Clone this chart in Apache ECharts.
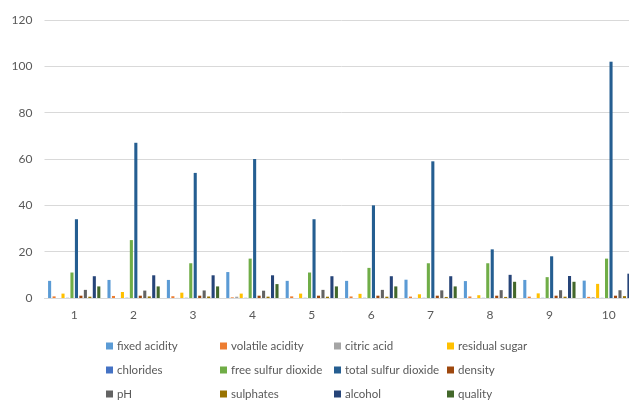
<!DOCTYPE html>
<html>
<head>
<meta charset="utf-8">
<script src="https://cdn.jsdelivr.net/npm/echarts@6/dist/echarts.min.js"></script>
<style>
  html, body { margin: 0; padding: 0; background: #fff; overflow: hidden; }
  #chart { width: 645px; height: 402px; }
</style>
</head>
<body>
<div id="chart"></div>
<script>
// Wine samples 1-10, one bar per measured property
const categories = ['1', '2', '3', '4', '5', '6', '7', '8', '9', '10'];

const fixedAcidity       = [7.4, 7.8, 7.8, 11.2, 7.4, 7.4, 7.9, 7.3, 7.8, 7.5];
const volatileAcidity    = [0.70, 0.88, 0.76, 0.28, 0.70, 0.66, 0.60, 0.65, 0.58, 0.50];
const citricAcid         = [0.00, 0.00, 0.04, 0.56, 0.00, 0.00, 0.06, 0.00, 0.02, 0.36];
const residualSugar      = [1.9, 2.6, 2.3, 1.9, 1.9, 1.8, 1.6, 1.2, 2.0, 6.1];
const chlorides          = [0.076, 0.098, 0.092, 0.075, 0.076, 0.075, 0.069, 0.065, 0.073, 0.071];
const freeSulfurDioxide  = [11, 25, 15, 17, 11, 13, 15, 15, 9, 17];
const totalSulfurDioxide = [34, 67, 54, 60, 34, 40, 59, 21, 18, 102];
const density            = [0.9978, 0.9968, 0.997, 0.998, 0.9978, 0.9978, 0.9964, 0.9946, 0.9968, 0.9978];
const pH                 = [3.51, 3.2, 3.26, 3.16, 3.51, 3.51, 3.3, 3.39, 3.36, 3.35];
const sulphates          = [0.56, 0.68, 0.65, 0.58, 0.56, 0.56, 0.46, 0.47, 0.57, 0.8];
const alcohol            = [9.4, 9.8, 9.8, 9.8, 9.4, 9.4, 9.4, 10, 9.5, 10.5];
const quality            = [5, 5, 5, 6, 5, 5, 5, 7, 7, 5];

const seriesNames = ['fixed acidity', 'volatile acidity', 'citric acid', 'residual sugar',
  'chlorides', 'free sulfur dioxide', 'total sulfur dioxide', 'density',
  'pH', 'sulphates', 'alcohol', 'quality'];
const seriesValues = [fixedAcidity, volatileAcidity, citricAcid, residualSugar,
  chlorides, freeSulfurDioxide, totalSulfurDioxide, density,
  pH, sulphates, alcohol, quality];
const palette = ['#5B9BD5', '#ED7D31', '#A5A5A5', '#FFC000', '#4472C4', '#70AD47',
  '#255E91', '#9E480E', '#636363', '#997300', '#264478', '#43682B'];

const yTicks = { min: 0, max: 120, interval: 20 };

const font = 'Lato, "Liberation Sans", sans-serif';
const textColor = '#595959';

// Legend grid: four columns by three rows, one legend component per entry
const legendCols = [101, 215, 329, 442];
const legendRows = [335, 359, 383];
const legends = seriesNames.map((name, i) => ({
  data: [name],
  left: legendCols[i % 4],
  top: legendRows[Math.floor(i / 4)],
  itemWidth: 7,
  itemHeight: 7,
  icon: 'rect',
  selectedMode: false,
  textStyle: { color: textColor, fontSize: 11.5, fontFamily: font, padding: [0, 0, 0, -1] }
}));

const chart = echarts.init(document.getElementById('chart'), null, { renderer: 'canvas' });

chart.setOption({
  animation: false,
  backgroundColor: '#ffffff',
  color: palette,
  textStyle: { fontFamily: font },
  grid: { left: 44.5, top: 20, width: 594, height: 278, containLabel: false },
  legend: legends,
  xAxis: {
    type: 'category',
    data: categories,
    axisLine: { lineStyle: { color: '#D9D9D9', width: 1 } },
    axisTick: { show: false },
    axisLabel: { color: textColor, fontSize: 12, margin: 11 }
  },
  yAxis: {
    type: 'value',
    min: yTicks.min,
    max: yTicks.max,
    interval: yTicks.interval,
    axisLine: { show: false },
    axisTick: { show: false },
    axisLabel: { color: textColor, fontSize: 12, margin: 12 },
    splitLine: { lineStyle: { color: '#D9D9D9', width: 1 } }
  },
  series: seriesNames.map((name, i) => ({
    name: name,
    type: 'bar',
    data: seriesValues[i],
    barGap: '45%',
    barCategoryGap: '12%',
    itemStyle: { color: palette[i] }
  }))
});
</script>
</body>
</html>
